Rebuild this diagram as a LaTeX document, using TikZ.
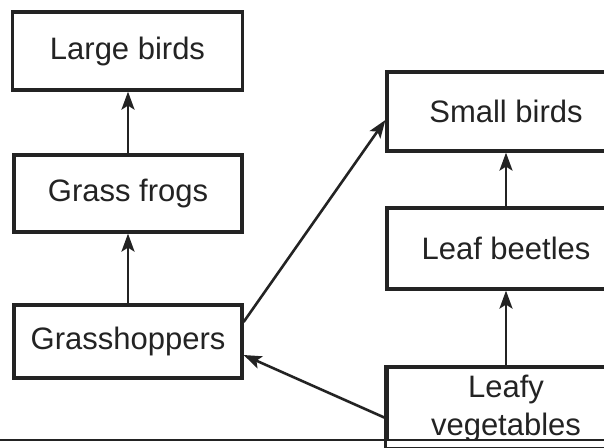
\documentclass[tikz,border=0pt]{standalone}
\usepackage{fontspec}
\setmainfont{Liberation Sans}
\usetikzlibrary{arrows.meta}
\definecolor{inkgray}{RGB}{35,35,35}

\begin{document}
\begin{tikzpicture}[x=0.5pt,y=0.5pt, webbox/.style={draw=inkgray,line width=1.6pt,fill=white,inner sep=0pt,text=inkgray,align=center,font=\fontsize{15.5}{19}\selectfont}, eats/.style={draw=inkgray,line width=1.3pt,-{Stealth[length=9pt,width=6.5pt,inset=2pt]}}]
            \useasboundingbox (0,0) rectangle (604,447);
            \clip (0,0) rectangle (604,447);
            \node[webbox,minimum width=115pt,minimum height=39pt] (lb) at (127.5,396) {Large birds};
            \node[webbox,minimum width=114pt,minimum height=38.5pt] (gf) at (128,253.5) {Grass frogs};
            \node[webbox,minimum width=114pt,minimum height=36.5pt] (gh) at (128,105.5) {Grasshoppers};
            \node[webbox,minimum width=119pt,minimum height=39.5pt] (sb) at (506,335.5) {Small birds};
            \node[webbox,minimum width=119pt,minimum height=40.5pt] (lbt) at (506,198.5) {Leaf beetles};
            \node[webbox,minimum width=119pt,minimum height=41pt] (veg) at (506,39) {Leafy\\vegetables};

            \draw[eats] (gf.north) -- (gf.north |- lb.south);
            \draw[eats] (gh.north) -- (gh.north |- gf.south);
            \draw[eats] (lbt.north) -- (lbt.north |- sb.south);
            \draw[eats] (veg.north) -- (veg.north |- lbt.south);
            \draw[eats] ([yshift=9.75pt]gh.east) -- ([yshift=-4.25pt]sb.west);
            \draw[eats] ([yshift=-5pt]veg.west) -- ([yshift=-6.75pt]gh.east);

            % page edge of the scan
            \coordinate (edgeL) at (0,7);
            \coordinate (edgeR) at (604,7);
            \fill[white] (0,0) rectangle (604,6.5);
            \draw[inkgray,line width=1.6pt] (veg.north west) -- (veg.south west);
            \draw[inkgray,line width=1.2pt] (edgeL) -- (edgeR);
        \end{tikzpicture}
\end{document}
